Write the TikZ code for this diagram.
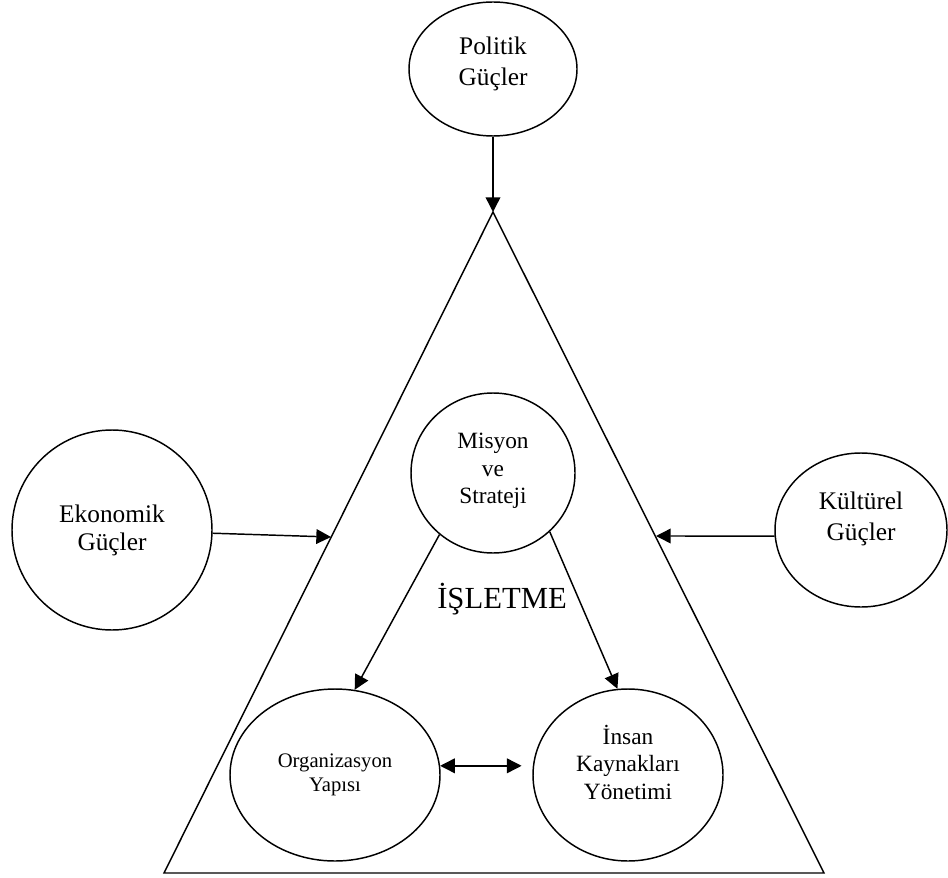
\documentclass[tikz,border=0pt]{standalone}
\usepackage{fontspec}
\setmainfont{Liberation Serif}
\usetikzlibrary{arrows.meta, shapes.geometric}
\tikzset{
  guc/.style={ellipse, draw, line width=1.1pt, inner sep=0pt, align=center,
    font=\fontsize{19}{23}\selectfont},
  birim/.style={guc, font=\fontsize{17.5}{20.5}\selectfont},
  kucukbirim/.style={guc, font=\fontsize{15.5}{17.5}\selectfont},
  baslik/.style={font=\fontsize{23}{27}\selectfont},
  ok/.style={-{Triangle[length=11pt, width=11pt]}, line width=1.1pt},
  ciftok/.style={{Triangle[length=11pt, width=11pt]}-{Triangle[length=11pt, width=11pt]}, line width=1.1pt},
  ucgen/.style={line width=1.1pt, line join=miter}
}

\begin{document}
\begin{tikzpicture}[x=0.75pt, y=-0.75pt]
    \useasboundingbox (0,0) rectangle (948,877);

    % isletme ucgeni
    \coordinate (tepe) at (493,212);
    \coordinate (solalt) at (164,873);
    \coordinate (sagalt) at (824,873);
    \draw[ucgen] (tepe) -- (solalt) -- (sagalt) -- cycle;
    \coordinate (solkenar) at (331,537);
    \coordinate (sagkenar) at (656,536);

    % dis gucler
    \node[guc, minimum width=126pt, minimum height=100.5pt, text depth=12pt] (pol) at (493,69) {Politik\\Güçler};
    \node[guc, minimum width=150pt, minimum height=150pt, font=\fontsize{19}{21}\selectfont] (eko) at (112,530) {Ekonomik\\Güçler};
    \node[guc, minimum width=129pt, minimum height=115.5pt, text depth=21pt] (kul) at (861,530) {Kültürel\\Güçler};

    % isletme ici
    \node[birim, minimum width=123pt, minimum height=120pt, text depth=7pt] (mis) at (493,473) {Misyon\\ve\\Strateji};
    \node[baslik] (isletme) at (502,599) {İŞLETME};
    \node[kucukbirim, minimum width=157.5pt, minimum height=129pt] (org) at (335,775) {Organizasyon\\Yapısı};
    \node[birim, minimum width=142.5pt, minimum height=129pt, text depth=19pt] (ins) at (628,775) {İnsan\\Kaynakları\\Yönetimi};

    \draw[ok] (pol) -- (tepe);
    \draw[ok] (eko) -- (solkenar);
    \draw[ok] (kul.184) -- (sagkenar);
    \draw[ok] (mis.229) -- (org.77);
    \draw[ok] (mis.314) -- (ins.97);
    \draw[ciftok, shorten >=8pt] (org.5) -- (org.5 -| ins.west);
\end{tikzpicture}
\end{document}
